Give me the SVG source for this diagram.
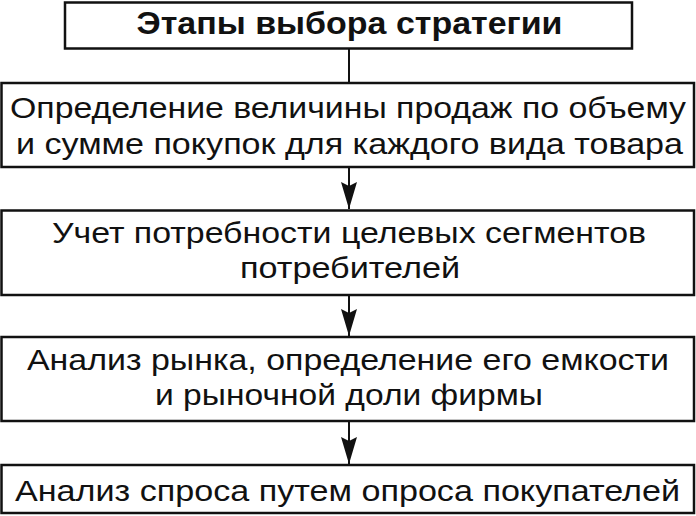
<svg xmlns="http://www.w3.org/2000/svg" width="696" height="516" viewBox="0 0 696 516">
<defs>
<style>
.box{fill:#fff;stroke:#111;stroke-width:2.5}
.t{font-family:"Liberation Sans",Arial,sans-serif;font-size:30px;fill:#111;text-anchor:middle}
.h{font-family:"Liberation Sans",Arial,sans-serif;font-size:31.5px;font-weight:bold;fill:#111;text-anchor:middle}
.c{stroke:#111;stroke-width:2;fill:none}
</style>
<marker id="ah" markerUnits="userSpaceOnUse" markerWidth="28" markerHeight="16" refX="27" refY="8" orient="auto" viewBox="0 0 28 16">
<path d="M0,0 L27,8 L0,16 L4,8 Z" fill="#111"/>
</marker>
</defs>
<rect width="696" height="516" fill="#fff"/>
<g id="connectors">
<line class="c" x1="349" y1="48" x2="349" y2="83"/>
<path class="c" d="M349,167 V209" marker-end="url(#ah)"/>
<path class="c" d="M349,295 V336" marker-end="url(#ah)"/>
<path class="c" d="M349,421 V464" marker-end="url(#ah)"/>
</g>
<g id="title">
<rect class="box" x="65" y="2.5" width="567" height="46"/>
<text class="h" x="349.5" y="33.5" textLength="426" lengthAdjust="spacingAndGlyphs">Этапы выбора стратегии</text>
</g>
<g id="step1">
<rect class="box" x="1.5" y="83" width="692.5" height="84"/>
<text class="t" x="348" y="117.5" textLength="676" lengthAdjust="spacingAndGlyphs">Определение величины продаж по объему</text>
<text class="t" x="349.5" y="153.5" textLength="667" lengthAdjust="spacingAndGlyphs">и сумме покупок для каждого вида товара</text>
</g>
<g id="step2">
<rect class="box" x="1.5" y="210.5" width="692.5" height="84.5"/>
<text class="t" x="349" y="242.5" textLength="594" lengthAdjust="spacingAndGlyphs">Учет потребности целевых сегментов</text>
<text class="t" x="350" y="278" textLength="220" lengthAdjust="spacingAndGlyphs">потребителей</text>
</g>
<g id="step3">
<rect class="box" x="1.5" y="337" width="692.5" height="84"/>
<text class="t" x="348" y="369.5" textLength="642" lengthAdjust="spacingAndGlyphs">Анализ рынка, определение его емкости</text>
<text class="t" x="349" y="405" textLength="388" lengthAdjust="spacingAndGlyphs">и рыночной доли фирмы</text>
</g>
<g id="step4">
<rect class="box" x="1.5" y="465" width="692.5" height="48"/>
<text class="t" x="347.5" y="501" textLength="665" lengthAdjust="spacingAndGlyphs">Анализ спроса путем опроса покупателей</text>
</g>
</svg>
